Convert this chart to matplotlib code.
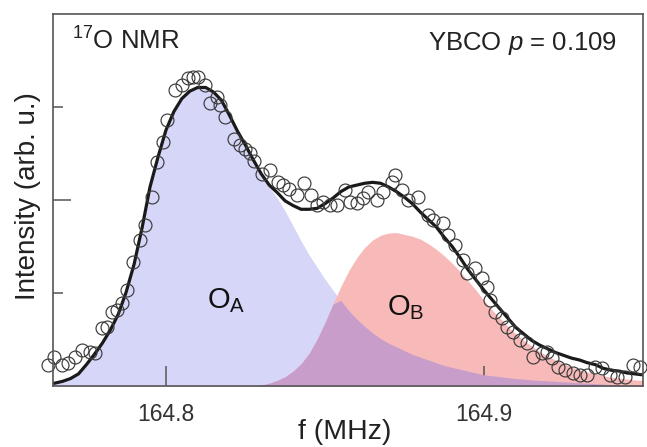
import numpy as np
import matplotlib
matplotlib.use("Agg")
import matplotlib.pyplot as plt

plt.rcParams['font.family'] = ['Liberation Sans', 'DejaVu Sans']
plt.rcParams['mathtext.fontset'] = 'custom'
plt.rcParams['mathtext.rm'] = 'Liberation Sans'
plt.rcParams['mathtext.it'] = 'Liberation Sans:italic'

# ---- measured spectrum (f in MHz, intensity arb. u.) ----
data_f = [164.7629, 164.7648, 164.7673, 164.7692, 164.7714, 164.7736, 164.7761, 164.7777,
          164.7799, 164.7814, 164.7830, 164.7846, 164.7862, 164.7877, 164.7896, 164.7918,
          164.7934, 164.7956, 164.7972, 164.7991, 164.8003, 164.8028, 164.8050, 164.8069,
          164.8085, 164.8101, 164.8123, 164.8138, 164.8160, 164.8170, 164.8186, 164.8214,
          164.8233, 164.8248, 164.8264, 164.8277, 164.8302, 164.8327, 164.8352, 164.8368,
          164.8387, 164.8412, 164.8434, 164.8456, 164.8475, 164.8494, 164.8516, 164.8538,
          164.8563, 164.8579, 164.8601, 164.8619, 164.8635, 164.8664, 164.8682, 164.8720,
          164.8711, 164.8742, 164.8761, 164.8792, 164.8824, 164.8840, 164.8871, 164.8887,
          164.8909, 164.8934, 164.8947, 164.8972, 164.8994, 164.9009, 164.9019, 164.9035,
          164.9057, 164.9072, 164.9091, 164.9113, 164.9135, 164.9154, 164.9182, 164.9198,
          164.9214, 164.9233, 164.9255, 164.9280, 164.9302, 164.9324, 164.9349, 164.9371,
          164.9396, 164.9418, 164.9443, 164.9469, 164.9491]
data_i = [0.23, 0.31, 0.23, 0.25, 0.31, 0.39, 0.37, 0.35,
          0.62, 0.63, 0.80, 0.82, 0.89, 1.03, 1.33, 1.57,
          1.73, 2.03, 2.41, 2.62, 2.86, 3.18, 3.24, 3.31,
          3.32, 3.32, 3.24, 3.04, 3.11, 3.02, 2.89, 2.66,
          2.59, 2.55, 2.51, 2.42, 2.28, 2.32, 2.19, 2.16,
          2.12, 2.05, 2.18, 2.05, 1.95, 1.98, 1.95, 1.95,
          2.11, 1.98, 1.97, 2.02, 2.09, 2.00, 2.09, 2.27,
          2.19, 2.11, 2.00, 2.03, 1.84, 1.78, 1.75, 1.62,
          1.52, 1.35, 1.22, 1.27, 1.16, 1.06, 0.92, 0.80,
          0.73, 0.63, 0.58, 0.49, 0.46, 0.31, 0.35, 0.37,
          0.30, 0.20, 0.17, 0.14, 0.12, 0.12, 0.20, 0.19,
          0.12, 0.10, 0.10, 0.23, 0.20]

# ---- fit curves sampled every 2.5 kHz from 164.765 to 164.950 MHz ----
fit_f = np.round(np.arange(164.765, 164.95001, 0.0025), 4)
fit_total = [0.03, 0.05, 0.08, 0.13, 0.23, 0.34, 0.46, 0.60, 0.77, 1.01,
             1.31, 1.70, 2.14, 2.46, 2.75, 2.95, 3.09, 3.17, 3.21, 3.21,
             3.16, 3.07, 2.91, 2.74, 2.59, 2.43, 2.28, 2.16, 2.08, 1.99,
             1.94, 1.90, 1.90, 1.91, 1.96, 2.02, 2.09, 2.14, 2.16, 2.18,
             2.19, 2.18, 2.14, 2.09, 2.03, 1.96, 1.87, 1.79, 1.71, 1.60,
             1.50, 1.38, 1.25, 1.14, 1.03, 0.93, 0.83, 0.73, 0.63, 0.56,
             0.49, 0.44, 0.40, 0.36, 0.33, 0.30, 0.28, 0.25, 0.23, 0.19,
             0.17, 0.16, 0.14, 0.13, 0.12]
fit_A = [0.03, 0.05, 0.08, 0.13, 0.23, 0.34, 0.46, 0.60, 0.77, 1.01,
         1.31, 1.70, 2.14, 2.46, 2.75, 2.95, 3.09, 3.17, 3.21, 3.21,
         3.16, 3.07, 2.91, 2.74, 2.59, 2.43, 2.27, 2.14, 2.02, 1.88,
         1.72, 1.56, 1.41, 1.28, 1.15, 1.03, 0.92, 0.81, 0.72, 0.64,
         0.57, 0.51, 0.46, 0.42, 0.38, 0.34, 0.31, 0.28, 0.25, 0.22,
         0.20, 0.18, 0.16, 0.14, 0.12, 0.11, 0.10, 0.09, 0.08, 0.075,
         0.065, 0.06, 0.055, 0.05, 0.045, 0.04, 0.035, 0.03, 0.025, 0.02,
         0.015, 0.01, 0.01, 0.005, 0.005]
fit_B = [0, 0, 0, 0, 0, 0, 0, 0, 0, 0,
         0, 0, 0, 0, 0, 0, 0, 0, 0, 0,
         0, 0, 0, 0, 0, 0.0, 0.01, 0.03, 0.06, 0.10,
         0.16, 0.24, 0.35, 0.50, 0.68, 0.88, 1.07, 1.24, 1.38, 1.49,
         1.57, 1.62, 1.645, 1.65, 1.63, 1.61, 1.58, 1.53, 1.47, 1.40,
         1.32, 1.23, 1.13, 1.03, 0.92, 0.82, 0.73, 0.64, 0.56, 0.49,
         0.43, 0.37, 0.32, 0.28, 0.24, 0.205, 0.175, 0.15, 0.13, 0.11,
         0.095, 0.085, 0.075, 0.065, 0.06]

x_major = [164.8, 164.9]
x_major_labels = ['164.8', '164.9']
x_minor = [164.85]
y_major = [2]
y_minor = [1, 3]

col_A = '#d6d6f9'
col_B = '#f8b9b9'
col_AB = '#c99dca'
spine_col = '#555555'

fig = plt.figure(figsize=(6.47, 4.47), dpi=100)
ax = fig.add_axes([53/647, 61/447, 590/647, 372/447])

A = np.array(fit_A)
B = np.array(fit_B)
ax.fill_between(fit_f, 0, A, color=col_A, lw=0, zorder=1)
ax.fill_between(fit_f, 0, B, color=col_B, lw=0, zorder=1)
ax.fill_between(fit_f, 0, np.minimum(A, B), color=col_AB, lw=0, zorder=2)

ax.plot(data_f, data_i, 'o', ms=9.3, mfc='none', mec='#3a3a3a', mew=0.85,
        zorder=4, clip_on=False)
ax.plot(fit_f, fit_total, color='#1a1a1a', lw=2.3, zorder=3)

ax.set_xlim(164.7645, 164.95)
ax.set_ylim(0, 4)
ax.set_xticks(x_major)
ax.set_xticklabels(x_major_labels)
ax.set_xticks(x_minor, minor=True)
ax.set_yticks(y_major)
ax.set_yticklabels([])
ax.set_yticks(y_minor, minor=True)

ax.tick_params(axis='x', which='major', direction='in', length=14.4, width=1.1,
               color=spine_col, labelsize=16.5, pad=12.5, labelcolor='#333333')
ax.tick_params(axis='x', which='minor', direction='in', length=6.5, width=1.1,
               color=spine_col)
ax.tick_params(axis='y', which='major', direction='in', length=13, width=1.1,
               color=spine_col)
ax.tick_params(axis='y', which='minor', direction='in', length=7, width=1.1,
               color=spine_col)
for s in ax.spines.values():
    s.set_color(spine_col)
    s.set_linewidth(1.2)
    s.set_zorder(5)

ax.set_xlabel('f (MHz)', fontsize=20.5, color='#222222')
ax.xaxis.set_label_coords(0.495, -0.088)
ax.set_ylabel('Intensity (arb. u.)', fontsize=20, color='#222222')
ax.yaxis.set_label_coords(-0.021, 0.51)

ax.text(0.032, 0.903, r'$^{17}$O NMR', transform=ax.transAxes, fontsize=18.5,
        color='#222222', ha='left', va='baseline')
ax.text(0.956, 0.903, r'YBCO $p$ = 0.109', transform=ax.transAxes, fontsize=18.5,
        color='#222222', ha='right', va='baseline')
ax.text(0.261, 0.21, r'O$_{\mathrm{A}}$', transform=ax.transAxes, fontsize=21,
        color='#111111', ha='left', va='baseline', zorder=6)
ax.text(0.566, 0.191, r'O$_{\mathrm{B}}$', transform=ax.transAxes, fontsize=21,
        color='#111111', ha='left', va='baseline', zorder=6)

fig.savefig('out.png', dpi=100)
